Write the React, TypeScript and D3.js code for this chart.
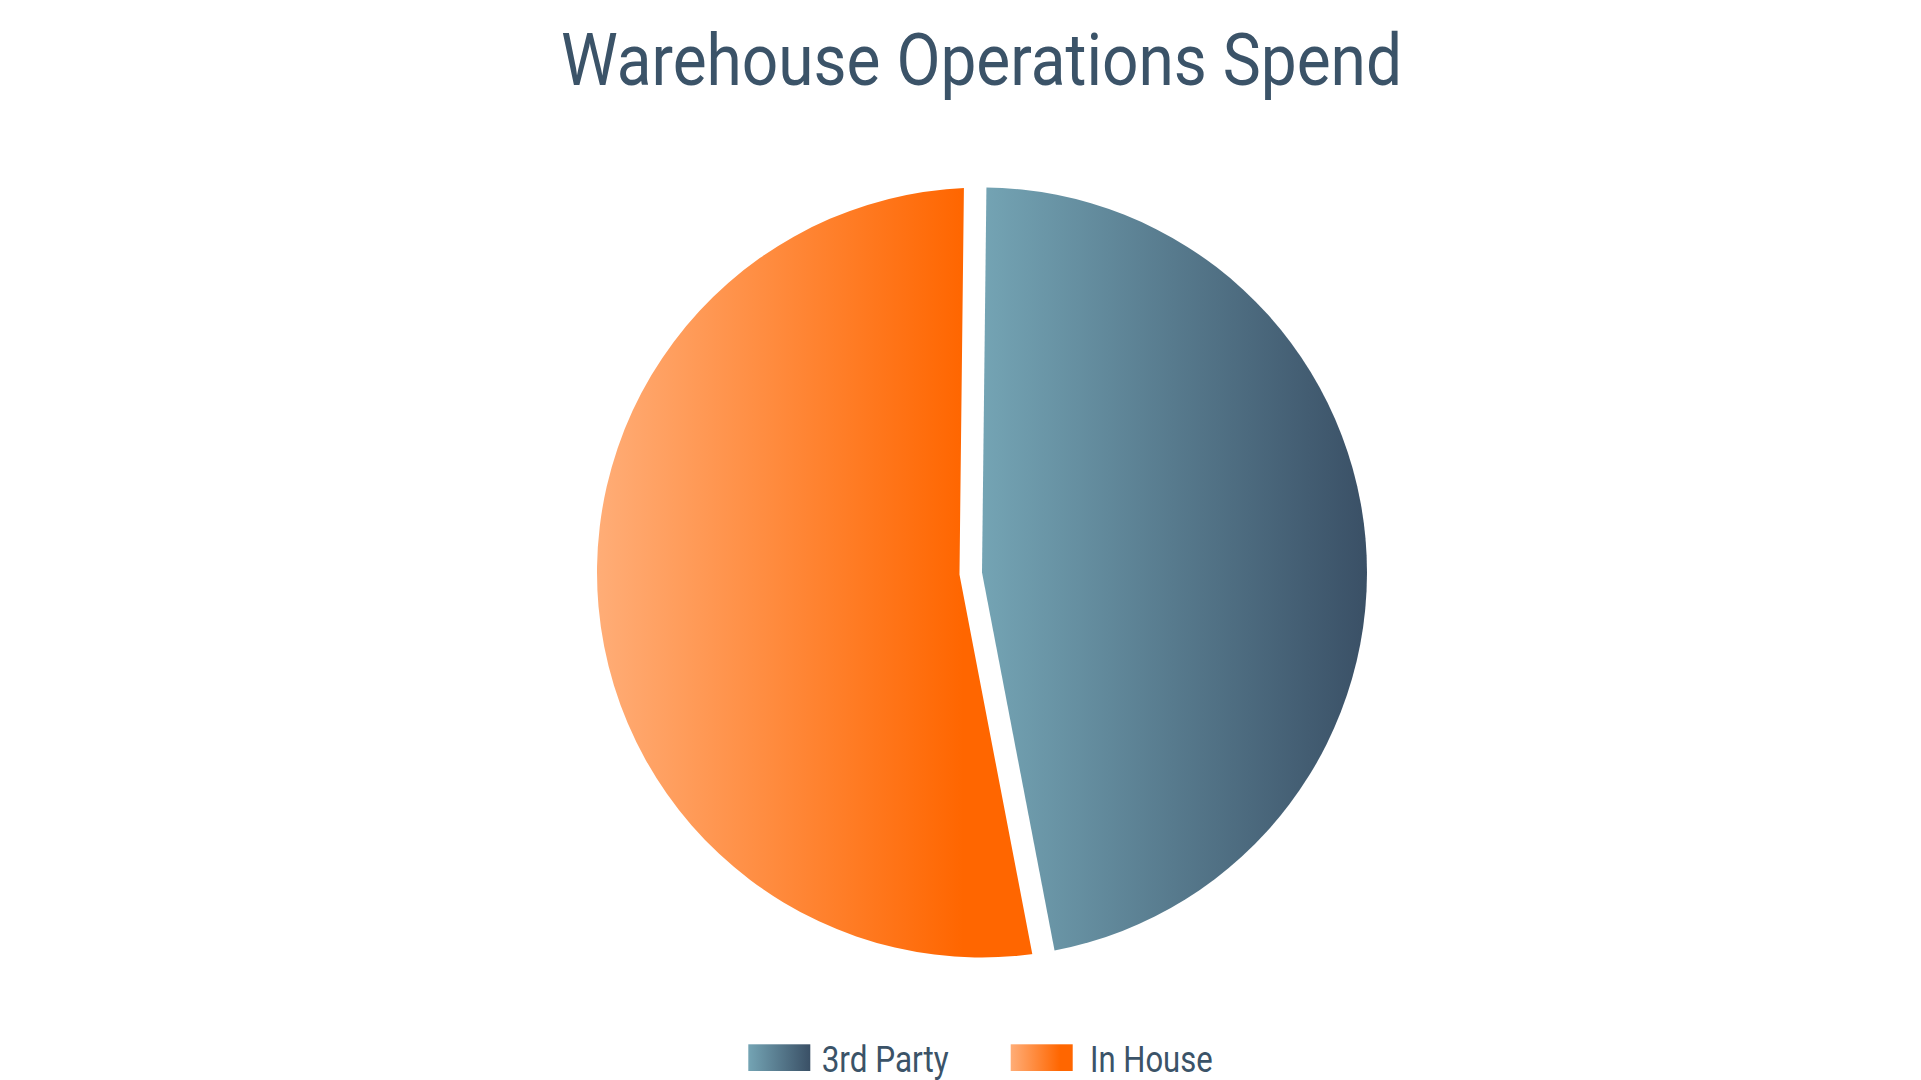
import React, { useEffect, useRef } from 'react';
import * as d3 from 'd3';

const categories = ['3rd Party', 'In House'];
const spend = [46.8, 53.2];
const gradientStops = [
  ['#74a4b4', '#3a5066'],
  ['#ffad77', '#ff6600'],
];
const gradientEnd = ['100%', '80%'];
const titleText = 'Warehouse Operations Spend';

export default function App() {
  const svgRef = useRef<SVGSVGElement>(null);

  useEffect(() => {
    const cx = 982;
    const cy = 572.5;
    const radius = 385;
    const gap = 45; // white stroke under the first slice, half of it shows

    const svg = d3.select(svgRef.current);
    svg.selectAll('*').remove(); // clear

    const defs = svg.append('defs');
    categories.forEach((c, i) => {
      const g = defs.append('linearGradient')
        .attr('id', `grad-${i}`)
        .attr('x1', '0%').attr('x2', '100%')
        .attr('y1', '0%').attr('y2', '0%');
      g.append('stop').attr('offset', '0%').attr('stop-color', gradientStops[i][0]);
      g.append('stop').attr('offset', gradientEnd[i]).attr('stop-color', gradientStops[i][1]);
    });

    svg.append('text')
      .attr('x', 561)
      .attr('y', 85)
      .attr('font-family', 'Roboto')
      .attr('font-size', 72)
      .attr('fill', '#3b5368')
      .attr('textLength', 841)
      .attr('lengthAdjust', 'spacingAndGlyphs')
      .text(titleText);

    const pie = d3.pie<number>()
      .sort(null)
      .startAngle(0.0115)
      .endAngle(0.0115 + Math.PI * 2);

    const arcs = pie(spend);
    const arc = d3.arc<d3.PieArcDatum<number>>()
      .innerRadius(0)
      .outerRadius(radius);

    const g = svg.append('g').attr('transform', `translate(${cx},${cy})`);

    // In House first, then 3rd Party over it with its white border
    g.append('path')
      .attr('d', arc(arcs[1]))
      .attr('fill', 'url(#grad-1)');

    g.append('path')
      .attr('d', arc(arcs[0]))
      .attr('fill', 'none')
      .attr('stroke', '#fff')
      .attr('stroke-width', gap)
      .attr('stroke-linejoin', 'miter');

    g.append('path')
      .attr('d', arc(arcs[0]))
      .attr('fill', 'url(#grad-0)');

    // legend
    const legendX = [748.3, 1010.7];
    const labelX = [821.7, 1090];
    const labelLen = [127, 122.7];
    categories.forEach((c, i) => {
      svg.append('rect')
        .attr('x', legendX[i])
        .attr('y', 1044.3)
        .attr('width', 62)
        .attr('height', 26.7)
        .attr('fill', `url(#grad-${i})`);
      svg.append('text')
        .attr('x', labelX[i])
        .attr('y', 1071.5)
        .attr('font-family', 'Roboto')
        .attr('font-size', 37)
        .attr('fill', '#3b5368')
        .attr('textLength', labelLen[i])
        .attr('lengthAdjust', 'spacingAndGlyphs')
        .text(c);
    });
  }, []);

  return (
    <svg
      ref={svgRef}
      width={1921}
      height={1080}
      style={{ position: 'absolute', left: 0, top: 0, display: 'block', background: '#fff' }}
    ></svg>
  );
}
